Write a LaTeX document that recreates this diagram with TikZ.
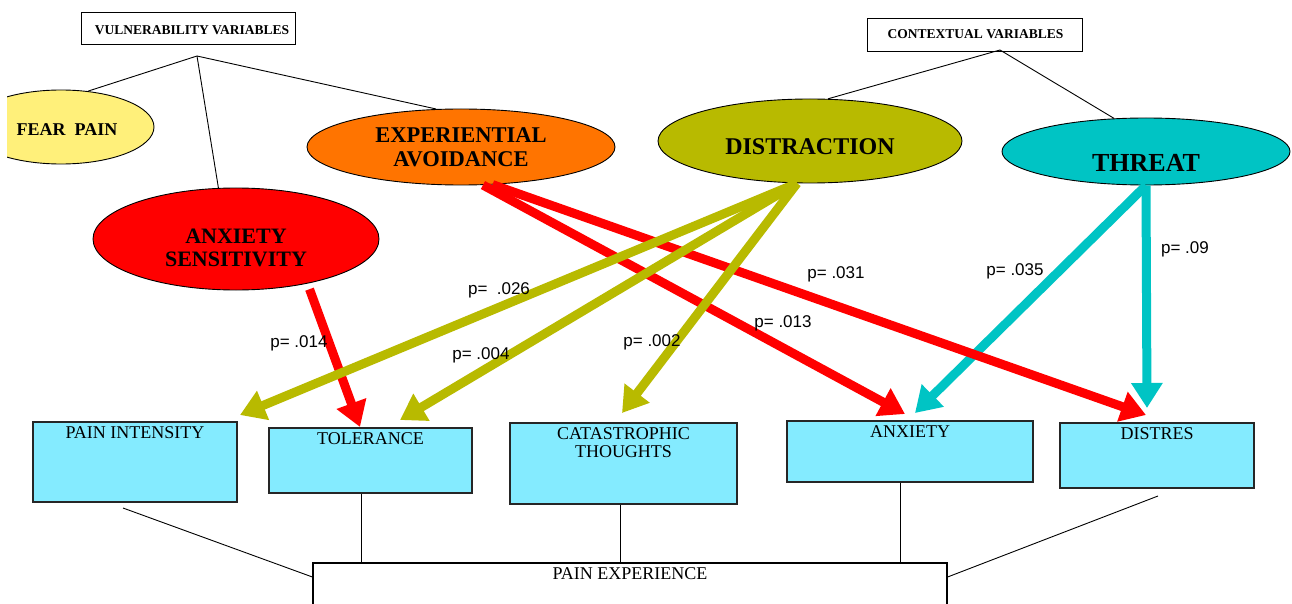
\documentclass[tikz,border=0pt]{standalone}
\usepackage{fontspec}
\setmainfont{Liberation Serif}
\newfontfamily\psans{Liberation Sans}
\usetikzlibrary{arrows.meta,shapes.geometric}
\definecolor{fpY}{RGB}{255,240,122}
\definecolor{eaO}{RGB}{255,116,0}
\definecolor{olv}{RGB}{184,186,0}
\definecolor{cyn}{RGB}{0,196,196}
\definecolor{boxc}{RGB}{132,235,255}
\definecolor{rd}{RGB}{255,0,0}
\begin{document}
\begin{tikzpicture}[x=1pt,y=-1pt,
  ell/.style={ellipse, draw=black, line width=0.9pt, inner sep=0pt},
  hdr/.style={draw=black, line width=0.9pt, inner sep=0pt},
  hdrtxt/.style={font=\fontsize{13.5}{15}\selectfont\bfseries, inner sep=0pt},
  vbox/.style={draw=black!85, line width=1.2pt, fill=boxc, inner sep=0pt},
  btxt/.style={anchor=north, inner sep=0pt, yshift=-5pt, font=\fontsize{18}{18}\selectfont, align=center},
  conn/.style={line width=0.9pt, draw=black},
  arr/.style={line width=9pt, -{Triangle[width=30pt,length=25pt]}},
  pv/.style={font=\psans\fontsize{17}{17}\selectfont, inner sep=0pt}
]
\useasboundingbox (0,0) rectangle (1292,604);
\clip (7,0) rectangle (1292,604);

% header boxes
\node[hdr, minimum width=214pt, minimum height=32pt,
  label={[hdrtxt, xshift=4pt, yshift=-2pt]center:VULNERABILITY VARIABLES}] (vul) at (188,28) {};
\node[hdr, minimum width=215pt, minimum height=33pt,
  label={[hdrtxt, xshift=1pt]center:CONTEXTUAL VARIABLES}] (ctx) at (974.5,34.5) {};

% ellipses
\node[ell, fill=fpY, minimum width=186pt, minimum height=74pt,
  label={[font=\fontsize{18}{18}\selectfont\bfseries, xshift=6pt, yshift=-3pt]center:FEAR~ PAIN}] (fp) at (61,127) {};
\node[ell, fill=eaO, minimum width=308pt, minimum height=76pt,
  label={[font=\fontsize{22.5}{24}\selectfont\bfseries, align=center]center:EXPERIENTIAL\\AVOIDANCE}] (ea) at (461,147) {};
\node[ell, fill=olv, minimum width=304pt, minimum height=84pt,
  label={[font=\fontsize{24}{24}\selectfont\bfseries, yshift=-6pt]center:DISTRACTION}] (dis) at (810,141) {};
\node[ell, fill=cyn, minimum width=288pt, minimum height=67pt,
  label={[font=\fontsize{26}{26}\selectfont\bfseries, yshift=-11pt]center:THREAT}] (thr) at (1146,151.5) {};
\node[ell, fill=rd, minimum width=286pt, minimum height=102pt,
  label={[font=\fontsize{22}{23.5}\selectfont\bfseries, align=center, yshift=-9pt]center:ANXIETY\\SENSITIVITY}] (as) at (236,239) {};

% thin connectors from headers
\coordinate (vj) at (197,56);
\coordinate (cj) at (1000,50);
\draw[conn] (vj) -- (fp.53);
\draw[conn] (vj) -- (as.109);
\draw[conn] (vj) -- (ea.123);
\draw[conn] (cj) -- (dis.67);
\draw[conn] (cj) -- (thr.134);

% outcome boxes
\node[vbox, minimum width=204pt, minimum height=80pt, label={[btxt]north:PAIN INTENSITY}] (pi) at (135,462) {};
\node[vbox, minimum width=203pt, minimum height=65pt, label={[btxt]north:TOLERANCE}] (tol) at (370.5,460.5) {};
\node[vbox, minimum width=227pt, minimum height=81pt, label={[btxt]north:CATASTROPHIC\\THOUGHTS}] (cat) at (623.5,463.5) {};
\node[vbox, minimum width=246pt, minimum height=61pt, label={[btxt]north:ANXIETY}] (anx) at (910,451.5) {};
\node[vbox, minimum width=194pt, minimum height=65pt, label={[btxt]north:DISTRES}] (dst) at (1157,455.5) {};
\node[draw=black, line width=1.2pt, fill=white, inner sep=0pt, minimum width=634pt, minimum height=74pt,
  label={[btxt]north:PAIN EXPERIENCE}] (pe) at (630,600) {};

% lines to pain experience
\coordinate (pib) at (123,508);
\coordinate (dsb) at (1158,496);
\draw[conn] (pib) -- (pe.north west |- 0,577);
\draw[conn] (tol.south -| 361,0) -- (pe.north -| 361,0);
\draw[conn] (cat.south -| 620,0) -- (pe.north -| 620,0);
\draw[conn] (anx.south -| 900,0) -- (pe.north -| 900,0);
\draw[conn] (dsb) -- (pe.north east |- 0,577);

% arrow tips
\coordinate (tPI) at (240,415);
\coordinate (tTolO) at (400,420);
\coordinate (tTolR) at (360,427);
\coordinate (tCat) at (622,413);
\coordinate (tAnxR) at (905,414);
\coordinate (tAnxC) at (915,413);
\coordinate (tDisR) at (1146,415);
\coordinate (tDisC) at (1147,408);

% cyan arrows
\draw[arr, cyn] (thr.south) -- (tAnxC);
\draw[arr, cyn] (thr.south) -- (tDisC);
% red arrows
\draw[arr, rd] ([yshift=-6pt]as.329) -- (tTolR);
\draw[arr, rd] (ea.300) -- (tAnxR);
\draw[arr, rd] (ea.310) -- (tDisR);
% olive arrows
\draw[arr, olv] (dis.253) -- (tPI);
\draw[arr, olv] (dis.253) -- (tTolO);
\draw[arr, olv] (dis.253) -- (tCat);

% p-values
\node[pv] (p026) at (499,290) {p=\ \ .026};
\node[pv] (p014) at (299,343) {p= .014};
\node[pv] (p004) at (481,355) {p= .004};
\node[pv] (p002) at (652,342) {p= .002};
\node[pv] (p031) at (836,274) {p= .031};
\node[pv] (p013) at (783,323) {p= .013};
\node[pv] (p035) at (1015,271) {p= .035};
\node[pv] (p09) at (1185,249) {p= .09};
\end{tikzpicture}
\end{document}
